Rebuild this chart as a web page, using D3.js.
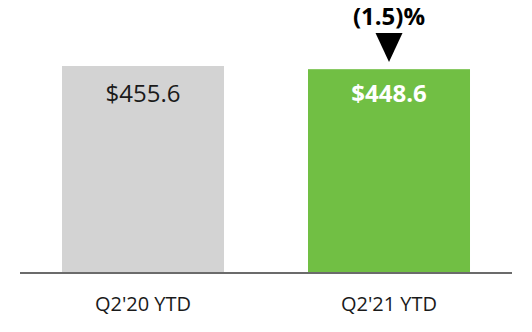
<!DOCTYPE html>
<html><head><meta charset="utf-8">
<script src="https://cdn.jsdelivr.net/npm/d3@7"></script>
<style>html,body{margin:0;padding:0;background:#fff}svg{display:block}</style>
</head><body>
<script>
const categories = ["Q2'20 YTD", "Q2'21 YTD"];
const values = [455.6, 448.6];
const valueLabels = ["$455.6", "$448.6"];
const changeLabel = "(1.5)%";

const W = 532, H = 332;
const svg = d3.select("body").append("svg").attr("width", W).attr("height", H);
const font = "'Open Sans', sans-serif";

const x = d3.scaleBand().domain(categories).range([20, 512]).paddingInner(0.3415).paddingOuter(0.1707);
const y = d3.scaleLinear().domain([0, 455.6]).range([273, 66]);
const colors = ["#d3d3d3", "#71bf44"];

svg.selectAll("rect.bar").data(values).enter().append("rect")
  .attr("x", (d, i) => x(categories[i]))
  .attr("y", d => y(d))
  .attr("width", x.bandwidth())
  .attr("height", d => y(0) - y(d))
  .attr("fill", (d, i) => colors[i]);

// baseline
svg.append("line").attr("x1", 20).attr("x2", 512).attr("y1", y(0)).attr("y2", y(0))
  .attr("stroke", "#6b6b6b").attr("stroke-width", 2);

// value labels
svg.selectAll("text.val").data(values).enter().append("text")
  .attr("x", (d, i) => x(categories[i]) + x.bandwidth() / 2)
  .attr("y", y(values[0]) + 36)
  .attr("text-anchor", "middle")
  .attr("font-family", font)
  .attr("font-size", 24)
  .attr("font-weight", (d, i) => i === 1 ? "bold" : "normal")
  .attr("fill", (d, i) => i === 1 ? "#fff" : "#1a1a1a")
  .text((d, i) => valueLabels[i]);

// axis labels
svg.selectAll("text.cat").data(categories).enter().append("text")
  .attr("x", d => x(d) + x.bandwidth() / 2)
  .attr("y", 311)
  .attr("text-anchor", "middle")
  .attr("font-family", font)
  .attr("font-size", 20)
  .attr("fill", "#1a1a1a")
  .text(d => d);

// change annotation
const cx = x(categories[1]) + x.bandwidth() / 2;
svg.append("text").attr("x", cx).attr("y", 25)
  .attr("text-anchor", "middle").attr("font-family", font)
  .attr("font-size", 24).attr("font-weight", "bold").attr("fill", "#000")
  .text(changeLabel);
svg.append("path")
  .attr("d", `M${cx - 13.5},33 L${cx + 13.5},33 L${cx},62 Z`)
  .attr("fill", "#000");
</script>
</body></html>
